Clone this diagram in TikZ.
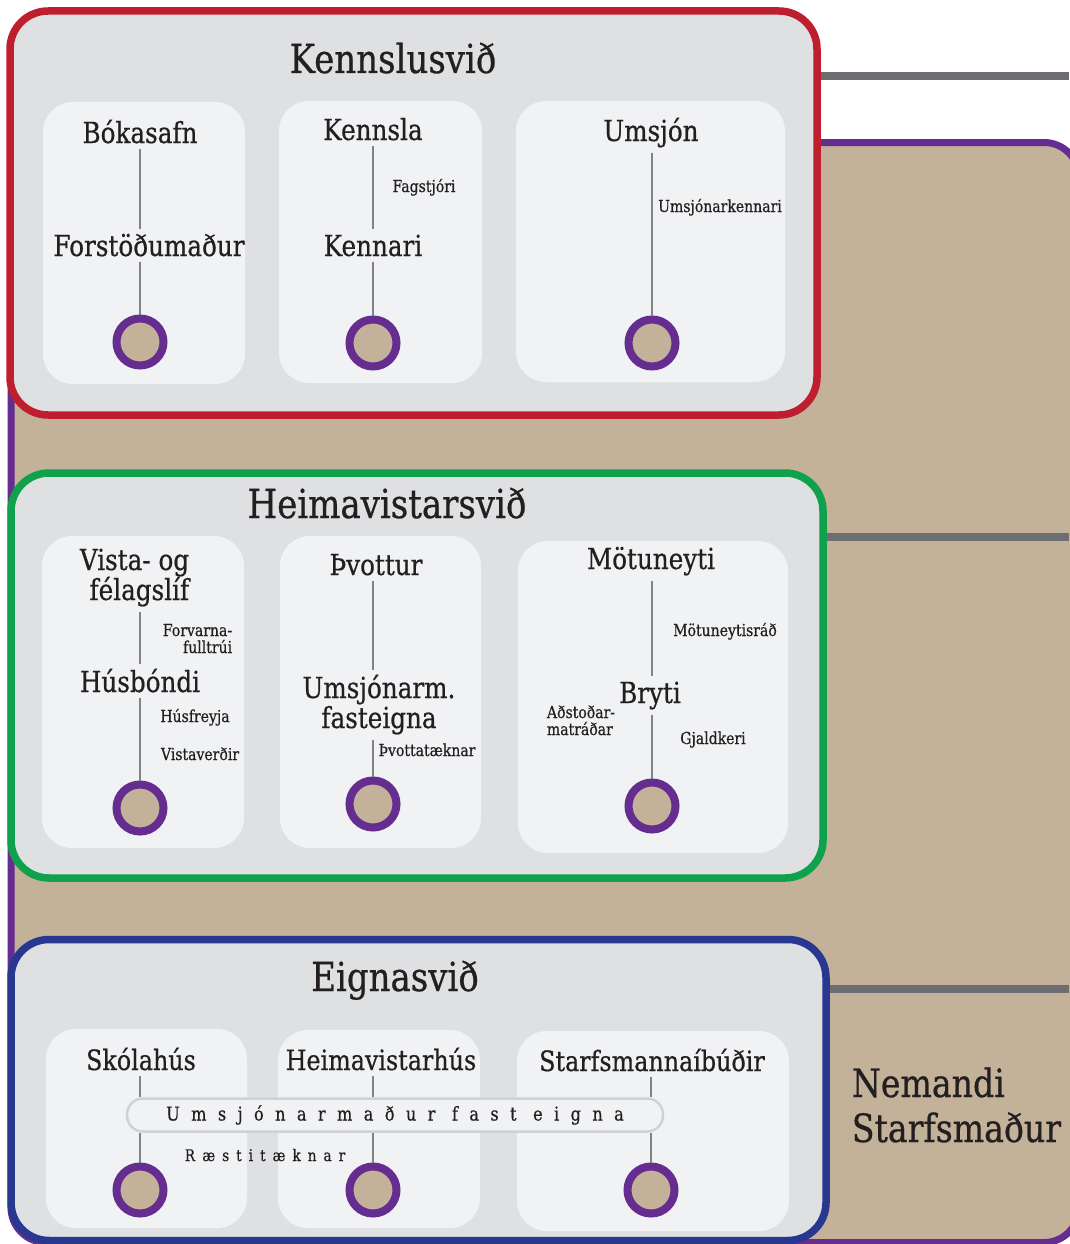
\documentclass[tikz,border=0pt]{standalone}
\usepackage{fontspec}
\setmainfont{DejaVu Serif}[FakeStretch=0.85,FakeBold=0.6]
\newfontfamily\spcfont{DejaVu Serif}[FakeStretch=0.85,FakeBold=0.6,LetterSpace=60]
\newfontfamily\spcfontb{DejaVu Serif}[FakeStretch=0.85,FakeBold=0.6,LetterSpace=44]
\newcommand\fttl{\fontsize{40}{44}\selectfont}
\newcommand\fhd{\fontsize{29}{30}\selectfont}
\newcommand\fehd{\fontsize{28}{30}\selectfont}
\newcommand\fsm{\fontsize{16.5}{17}\selectfont}
\newcommand\fbig{\fontsize{39}{45}\selectfont}
\newcommand\fpill{\spcfont\fontsize{19}{20}\selectfont}
\newcommand\frae{\spcfontb\fontsize{16}{17}\selectfont}
\definecolor{kred}{HTML}{BE1E2D}
\definecolor{kgreen}{HTML}{0FA14B}
\definecolor{kblue}{HTML}{283891}
\definecolor{kpurple}{HTML}{662D91}
\definecolor{ktan}{HTML}{C3B299}
\definecolor{kgray}{HTML}{6D6E71}
\definecolor{sectc}{HTML}{DFE0E2}
\definecolor{cardc}{HTML}{F1F2F4}
\definecolor{linec}{HTML}{838385}
\definecolor{ink}{HTML}{231F20}
\definecolor{pillc}{HTML}{D0D1D3}
\begin{document}
\begin{tikzpicture}[x=1pt,y=-1pt,
  sect/.style={draw=#1, line width=7.5pt, fill=sectc, rounded corners=38pt, inner sep=0pt},
  card/.style={fill=cardc, rounded corners=30pt, inner sep=0pt},
  ring/.style={circle, draw=kpurple, fill=ktan, line width=8pt, minimum size=47pt, inner sep=0pt},
  lbl/.style={inner sep=0pt, text=ink, anchor=base},
  link/.style={draw=linec, line width=2.5pt, shorten <=5pt, shorten >=5pt},
  drop/.style={draw=linec, line width=2.5pt, shorten <=5pt},
  conn/.style={draw=kgray, line width=8pt},
  pill/.style={fill=cardc, draw=pillc, line width=2.5pt, rounded corners=16pt, minimum width=536pt, minimum height=33pt, inner sep=0pt, text=ink}]
\useasboundingbox (0,0) rectangle (1069,1244);
\fill[white] (0,0) rectangle (1069,1244);
% background
\node[draw=kpurple, fill=ktan, line width=7pt, rounded corners=35pt, minimum width=1068pt, minimum height=1100pt, inner sep=0pt] (bg) at (545,692.5) {};
% free ends
\coordinate (r1) at (1069,76);
\coordinate (r2) at (1069,537);
\coordinate (r3) at (1069,989);
% sections
\node[sect=kred, minimum width=807pt, minimum height=404pt] (ks) at (413.5,213) {};
\node[sect=kgreen, minimum width=812pt, minimum height=405pt] (hs) at (417,675.5) {};
\node[sect=kblue, minimum width=815pt, minimum height=301pt] (es) at (418.5,1090) {};
\draw[conn] (ks.east |- r1) -- (r1);
\draw[conn] (hs.east |- r2) -- (r2);
\draw[conn] (es.east |- r3) -- (r3);
% cards
\node[card, minimum width=202pt, minimum height=282pt] (k1) at (144,243) {};
\node[card, minimum width=203pt, minimum height=282pt] (k2) at (380.5,242) {};
\node[card, minimum width=269pt, minimum height=281pt] (k3) at (650.5,241.5) {};
\node[card, minimum width=202pt, minimum height=312pt] (h1) at (143,692) {};
\node[card, minimum width=201pt, minimum height=312pt] (h2) at (380.5,692) {};
\node[card, minimum width=270pt, minimum height=312pt] (h3) at (653,697) {};
\node[card, minimum width=201pt, minimum height=199pt] (e1) at (146.5,1128.5) {};
\node[card, minimum width=202pt, minimum height=198pt] (e2) at (379,1129) {};
\node[card, minimum width=272pt, minimum height=200pt] (e3) at (653,1131) {};
% rings
\node[ring] (c1) at (140,342) {};
\node[ring] (c2) at (373,343) {};
\node[ring] (c3) at (652,343) {};
\node[ring] (c4) at (140,808) {};
\node[ring] (c5) at (373,804) {};
\node[ring] (c6) at (652,806) {};
\node[ring] (c7) at (140,1190) {};
\node[ring] (c8) at (373,1190) {};
\node[ring] (c9) at (651,1190) {};
% Kennslusvid
\node[lbl, font=\fttl] (tk) at (393,73) {Kennslusvið};
\node[lbl, font=\fhd] (bok) at (140,143) {Bókasafn};
\node[lbl, font=\fhd] (forst) at (149,256) {Forstöðumaður};
\node[lbl, font=\fhd] (kla) at (373,140) {Kennsla};
\node[lbl, font=\fhd] (kri) at (373,256) {Kennari};
\node[lbl, font=\fhd] (ums) at (651,141) {Umsjón};
\node[lbl, font=\fsm] (fag) at (424,192) {Fagstjóri};
\node[lbl, font=\fsm] (umk) at (720,212) {Umsjónarkennari};
\draw[link] (c1.north |- bok.south) -- (c1.north |- forst.north);
\draw[drop] (c1.north |- forst.south) -- (c1.north);
\draw[link] (c2.north |- kla.south) -- (c2.north |- kri.north);
\draw[drop] (c2.north |- kri.south) -- (c2.north);
\draw[drop] (c3.north |- ums.south) -- (c3.north);
% Heimavistarsvid
\node[lbl, font=\fttl] (th) at (387,518) {Heimavistarsvið};
\node[lbl, font=\fhd, align=right] (vis) at (134.5,600) {Vista- og\\félagslíf};
\node[lbl, font=\fsm, align=right] (forv) at (197.5,653) {Forvarna-\\fulltrúi};
\node[lbl, font=\fhd] (husb) at (140,692) {Húsbóndi};
\node[lbl, font=\fsm] (husf) at (195,722) {Húsfreyja};
\node[lbl, font=\fsm] (vist) at (200,760) {Vistaverðir};
\node[lbl, font=\fhd] (thv) at (376,575) {Þvottur};
\node[lbl, font=\fhd, align=center] (umf) at (379,728) {Umsjónarm.\\fasteigna};
\node[lbl, font=\fsm] (thvt) at (427,756) {Þvottatæknar};
\node[lbl, font=\fhd] (mot) at (651,569) {Mötuneyti};
\node[lbl, font=\fsm] (motr) at (725,636) {Mötuneytisráð};
\node[lbl, font=\fhd] (bry) at (650,703) {Bryti};
\node[lbl, font=\fsm, align=left] (ads) at (581,735) {Aðstoðar-\\matráðar};
\node[lbl, font=\fsm] (gja) at (713,744) {Gjaldkeri};
\draw[link] (c4.north |- vis.south) -- (c4.north |- husb.north);
\draw[drop] (c4.north |- husb.south) -- (c4.north);
\draw[link] (c5.north |- thv.south) -- (c5.north |- umf.north);
\draw[drop] (c5.north |- umf.south) -- (c5.north);
\draw[link] (c6.north |- mot.south) -- (c6.north |- bry.north);
\draw[drop] (c6.north |- bry.south) -- (c6.north);
% Eignasvid
\node[lbl, font=\fttl] (te) at (395,991) {Eignasvið};
\node[lbl, font=\fehd] (sko) at (141,1070) {Skólahús};
\node[lbl, font=\fehd] (hvh) at (381,1070) {Heimavistarhús};
\node[lbl, font=\fehd] (sma) at (652,1071) {Starfsmannaíbúðir};
\node[pill, font=\fpill] (pill) at (395,1115) {Umsjónarmaður fast eigna};
\node[lbl, font=\frae] (rae) at (265,1161) {Ræstitæknar};
\draw[drop, shorten >=0pt] (c7.north |- sko.south) -- (c7.north |- pill.north);
\draw[line width=2.5pt, draw=linec] (c7.north |- pill.south) -- (c7.north);
\draw[drop, shorten >=0pt] (c8.north |- hvh.south) -- (c8.north |- pill.north);
\draw[line width=2.5pt, draw=linec] (c8.north |- pill.south) -- (c8.north);
\draw[drop, shorten >=0pt] (c9.north |- sma.south) -- (c9.north |- pill.north);
\draw[line width=2.5pt, draw=linec] (c9.north |- pill.south) -- (c9.north);
% right text
\node[lbl, font=\fbig, align=left] (nem) at (956.5,1142) {Nemandi\\Starfsmaður};
\end{tikzpicture}
\end{document}
